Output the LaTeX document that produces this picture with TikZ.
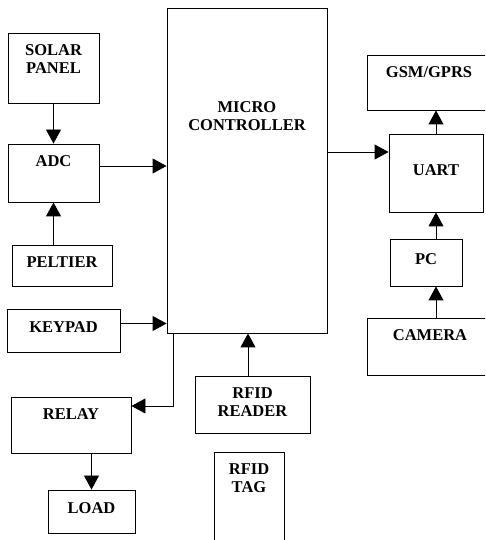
\documentclass[tikz,border=0pt]{standalone}
\usepackage{fontspec}
\setmainfont{Liberation Serif}
\usetikzlibrary{arrows.meta,positioning}

\tikzset{
  txt/.style={inner sep=0pt, align=center, font=\bfseries\fontsize{16.5}{18}\selectfont},
  blk/.style={draw, line width=0.9pt, txt, text depth=6pt},
  toptext/.style={label={[txt, anchor=north, yshift=-12pt]north:#1}},
  arr/.style={-{Triangle[length=14pt,width=15pt]}, line width=0.9pt},
}

\begin{document}
\begin{tikzpicture}[x=1pt, y=1pt]
    \useasboundingbox (0,0) rectangle (485,540);
    \clip (0,0) rectangle (485,540);

    % left column
    \node[blk, minimum width=91pt, minimum height=70pt, toptext={SOLAR\\PANEL}] (solar) at (53.5,472) {};
    \node[blk, minimum width=91pt, minimum height=58pt, toptext={ADC}] (adc) at (53.5,367) {};
    \node[blk, minimum width=100pt, minimum height=41pt] (peltier) at (62,274.5) {PELTIER};
    \node[blk, minimum width=113pt, minimum height=43pt] (keypad) at (63.5,209.5) {KEYPAD};
    \node[blk, minimum width=120pt, minimum height=56pt, toptext={RELAY}] (relay) at (71,115) {};
    \node[blk, minimum width=87pt, minimum height=43pt] (load) at (91.5,28.5) {LOAD};

    % middle
    \node[blk, minimum width=160pt, minimum height=325pt,
          label={[txt, anchor=north, yshift=-94pt]north:MICRO\\CONTROLLER}] (mc) at (247,369.5) {};
    \node[blk, minimum width=115pt, minimum height=57pt, toptext={RFID\\READER}] (reader) at (252.5,135.5) {};
    \node[blk, minimum width=70pt, minimum height=108pt, toptext={RFID\\TAG}] (tag) at (249,34) {};

    % right column
    \node[blk, minimum width=124pt, minimum height=55pt, toptext={GSM/GPRS}] (gsm) at (429,457.5) {};
    \node[blk, minimum width=94pt, minimum height=78pt] (uart) at (436,367) {UART};
    \node[blk, minimum width=72pt, minimum height=47pt] (pc) at (426,277.5) {PC};
    \node[blk, minimum width=126pt, minimum height=57pt, toptext={CAMERA}] (camera) at (430,193.5) {};

    % connections
    \draw[arr] (solar.south) -- (adc.north);
    \draw[arr] (adc.south |- peltier.north) -- (adc.south);
    \draw[arr] ([yshift=7pt]adc.east) -- ([yshift=7pt]adc.east -| mc.west);
    \draw[arr] ([yshift=7pt]keypad.east) -- ([yshift=7pt]keypad.east -| mc.west);
    \draw[arr] ([yshift=21pt]uart.west -| mc.east) -- ([yshift=21pt]uart.west);
    \draw[arr] (uart.north) -- (uart.north |- gsm.south);
    \draw[arr] (pc.north -| uart.south) -- (uart.south);
    \draw[arr] (camera.north -| uart.south) -- (pc.south -| uart.south);
    \draw[arr] ([xshift=7pt]mc.south west) |- ([yshift=19pt]relay.east);
    \draw[arr] (relay.south -| load.north) -- (load.north);
    \draw[arr] ([xshift=-4.5pt]reader.north) -- ([xshift=-4.5pt]reader.north |- mc.south);
\end{tikzpicture}
\end{document}
